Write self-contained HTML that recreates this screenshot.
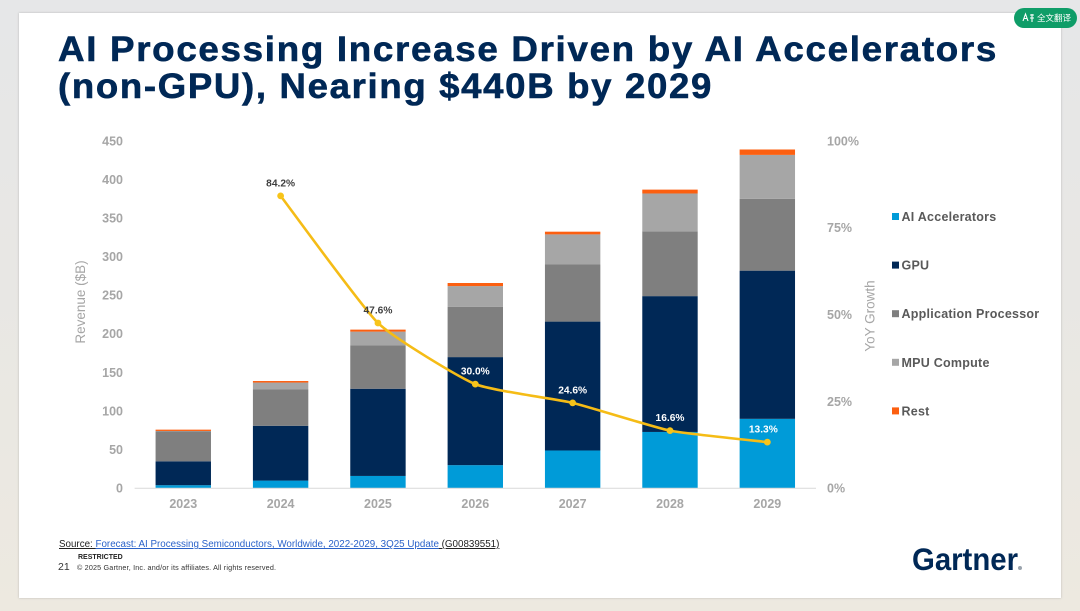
<!DOCTYPE html>
<html lang="en">
<head>
<meta charset="utf-8">
<title>AI Processing Forecast</title>
<style>
  html, body { margin: 0; padding: 0; }
  body { width: 1080px; height: 611px; overflow: hidden; position: relative;
         background: linear-gradient(180deg, #e6e7e8 0%, #e8e7e4 45%, #ede9e0 100%);
         font-family: "Liberation Sans", "Noto Sans CJK SC", sans-serif; }
  #slide { position: absolute; left: 19px; top: 13px; width: 1042px; height: 585px; background: #fff;
           box-shadow: 0 0 2px rgba(120,120,120,.45); }
  #badge { position: absolute; left: 1014px; top: 8px; width: 63px; height: 20px; border-radius: 10px;
           background: #0f9d68; color: #fff; font-size: 8.5px; line-height: 20px; white-space: nowrap; }
  #badge span { position: absolute; left: 23px; top: 0; }
  #badge svg { position: absolute; left: 8px; top: 4px; }
  svg#chart { position: absolute; left: 0; top: 0; }
  .src { position: absolute; left: 59px; top: 539px; font-size: 9.8px; line-height: 12px; color: #222; white-space: nowrap; text-decoration: underline; }
  .src a { color: #2a62c9; }
</style>
</head>
<body>
<div id="slide"></div>
<div id="badge">
  <svg width="13" height="12" viewBox="0 0 13 12"><path d="M1 9 L3.5 2 L6 9 M2 6.5 H5 M8 3 H12 M10 2 V10 M8 6 H12" stroke="#fff" stroke-width="1.1" fill="none"/></svg>
  <span>全文翻译</span>
</div>

<svg id="chart" width="1080" height="611" viewBox="0 0 1080 611" xmlns="http://www.w3.org/2000/svg" font-family="'Liberation Sans', sans-serif">
  <g font-size="35" font-weight="700" fill="#002856" stroke="#002856" stroke-width="0.6" letter-spacing="1.6">
    <text x="58" y="61" textLength="940" lengthAdjust="spacingAndGlyphs">AI Processing Increase Driven by AI Accelerators</text>
    <text x="58" y="98" textLength="655" lengthAdjust="spacingAndGlyphs">(non-GPU), Nearing $440B by 2029</text>
  </g>
  <g id="plot"></g>
  <text transform="translate(85,302) rotate(-90)" text-anchor="middle" font-size="13.5" fill="#a6a6a6">Revenue ($B)</text>
  <text transform="translate(874.5,316) rotate(-90)" text-anchor="middle" font-size="13.5" fill="#a6a6a6">YoY Growth</text>
  <text x="78" y="559" font-size="7" font-weight="700" fill="#222">RESTRICTED</text>
  <text x="58" y="570" font-size="10.5" fill="#333">21</text>
  <text x="77" y="570" font-size="7.2" fill="#333" textLength="199">© 2025 Gartner, Inc. and/or its affiliates. All rights reserved.</text>
  <text x="912" y="570" font-size="31.5" font-weight="700" fill="#002856" textLength="106" lengthAdjust="spacingAndGlyphs">Gartner</text>
  <circle cx="1020" cy="568" r="2" fill="#9aa3ad"></circle>
</svg>

<div class="src">Source: <a href="#">Forecast: AI Processing Semiconductors, Worldwide, 2022-2029, 3Q25 Update</a> (G00839551)</div>

<script>
const categories = ['2023', '2024', '2025', '2026', '2027', '2028', '2029'];
const seriesNames = ['AI Accelerators', 'GPU', 'Application Processor', 'MPU Compute', 'Rest'];
const aiAccelerators = [4, 10, 16, 30, 49, 73, 90];
const gpu = [31, 71, 113, 140, 167, 176, 192];
const applicationProcessor = [39, 47, 56, 65, 74, 84, 93];
const mpuCompute = [0.3, 9, 18, 27, 39, 49, 57];
const rest = [1.7, 2, 2.6, 4, 3.5, 5, 7];
const yoyGrowth = [null, 84.2, 47.6, 30.0, 24.6, 16.6, 13.3];
const revenueTicks = [0, 50, 100, 150, 200, 250, 300, 350, 400, 450];
const growthTicks = [0, 25, 50, 75, 100];

const seriesValues = [aiAccelerators, gpu, applicationProcessor, mpuCompute, rest];
const seriesColors = ['#009bd8', '#002856', '#7f7f7f', '#a6a6a6', '#fc5f10'];
const NS = 'http://www.w3.org/2000/svg';
const plot = document.getElementById('plot');
const plotLeft = 134.6, plotRight = 816, plotTop = 141, plotBottom = 488.3;

function xCenter(i) { return plotLeft + (plotRight - plotLeft) * (i + 0.5) / categories.length; }
function yRevenue(v) { return plotBottom - v / 450 * (plotBottom - plotTop); }
function yGrowth(v) { return plotBottom - v / 100 * (plotBottom - plotTop); }
function make(tag, attrs, text) {
  const el = document.createElementNS(NS, tag);
  for (const k in attrs) el.setAttribute(k, attrs[k]);
  if (text !== undefined) el.textContent = text;
  plot.appendChild(el);
  return el;
}
function slug(s) { return s.toLowerCase().replace(/[^a-z0-9]+/g, '-'); }

revenueTicks.forEach(function (t) {
  const el = make('text', { x: 123, y: yRevenue(t) + 4.3, 'text-anchor': 'end', 'font-size': 12.5, 'font-weight': 700, fill: '#a6a6a6' }, String(t));
  
  
});
growthTicks.forEach(function (t) {
  const el = make('text', { x: 827, y: yGrowth(t) + 4.3, 'font-size': 12.5, 'font-weight': 700, fill: '#a6a6a6' }, t + '%');
  
  
});

const barWidth = 55.4;
categories.forEach(function (c, i) {
  let acc = 0;
  seriesValues.forEach(function (vals, s) {
    const y1 = yRevenue(acc), y2 = yRevenue(acc + vals[i]);
    const el = make('rect', { x: xCenter(i) - barWidth / 2, y: y2, width: barWidth, height: y1 - y2, fill: seriesColors[s] });
    
    
    acc += vals[i];
  });
  const lab = make('text', { x: xCenter(i), y: 508, 'text-anchor': 'middle', 'font-size': 12.5, 'font-weight': 700, fill: '#a6a6a6' }, c);
  
  
});

const axisLine = make('line', { x1: plotLeft, x2: plotRight, y1: plotBottom, y2: plotBottom, stroke: '#d9d9d9', 'stroke-width': 1 });



const linePts = [];
yoyGrowth.forEach(function (v, i) {
  if (v !== null) linePts.push([xCenter(i), yGrowth(v), v, i]);
});
let d = 'M' + linePts[0][0] + ' ' + linePts[0][1];
for (let i = 0; i < linePts.length - 1; i++) {
  const p0 = linePts[Math.max(i - 1, 0)], p1 = linePts[i], p2 = linePts[i + 1], p3 = linePts[Math.min(i + 2, linePts.length - 1)];
  const k = 0.08;
  d += ' C' + (p1[0] + (p2[0] - p0[0]) * k) + ' ' + (p1[1] + (p2[1] - p0[1]) * k) + ' ' +
       (p2[0] - (p3[0] - p1[0]) * k) + ' ' + (p2[1] - (p3[1] - p1[1]) * k) + ' ' + p2[0] + ' ' + p2[1];
}
const growthLine = make('path', { d: d, fill: 'none', stroke: '#f5bc16', 'stroke-width': 2.6 });



linePts.forEach(function (p, n) {
  const dot = make('circle', { cx: p[0], cy: p[1], r: 3.4, fill: '#f7c41a' });
  
  
  const white = n >= 2;
  const shift = n === linePts.length - 1 ? -4 : 0;
  const lab = make('text', { x: p[0] + shift, y: p[1] - 9.5, 'text-anchor': 'middle', 'font-size': 10.2, 'font-weight': 700, fill: white ? '#ffffff' : '#3f3f3f' }, p[2].toFixed(1) + '%');
  
  
});

seriesNames.forEach(function (name, s) {
  const cy = 216.5 + s * 48.6;
  const sw = make('rect', { x: 892, y: cy - 3.5, width: 7, height: 7, fill: seriesColors[s] });
  
  
  const tx = make('text', { x: 901.5, y: cy + 4.5, 'font-size': 12.5, 'font-weight': 700, 'letter-spacing': 0.25, fill: '#595959' }, name);
  
  
});
</script>
</body>
</html>
